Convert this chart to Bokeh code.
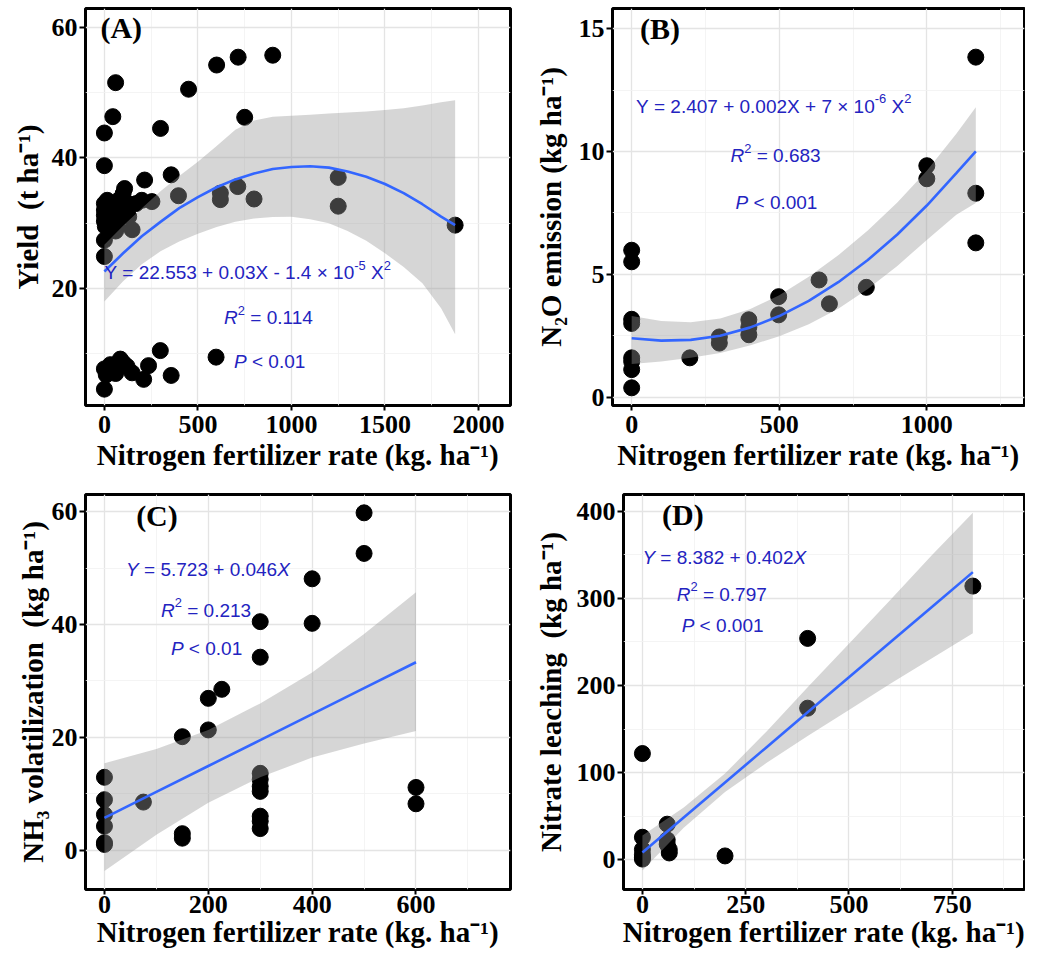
from bokeh.plotting import figure
from bokeh.models import Range1d, FixedTicker
from bokeh.layouts import column, row
from bokeh.embed import file_html
from bokeh.resources import INLINE
from bokeh.core.properties import value

# ---------------- data ----------------
# (A) Yield
A_x = [0, 45, 60, 300, 450, 600, 715, 900, 750,
       0, 215, 357, 108, 396, 620, 620, 713, 800, 254, 200, 148, 0, 0, 1250, 1250, 1875,
       0, 0, 0, 0, 5, 15, 20, 30, 35, 45, 50, 60, 70, 75, 90, 100, 110, 125, 60, 130, 170,
       0, 0, 32, 85, 121, 148, 210, 236, 299, 357, 597, 48, 101, 10, 60]
A_y = [43.8, 46.3, 51.5, 44.5, 50.5, 54.2, 55.4, 55.7, 46.2,
       38.8, 36.6, 37.4, 35.3, 34.2, 34.6, 33.6, 35.6, 33.7, 33.3, 33.5, 29.0, 27.4, 24.9, 37.0, 32.6, 29.7,
       33.0, 32.0, 31.2, 30.3, 29.5, 33.5, 31.5, 32.5, 30.0, 33.0, 31.0, 32.0, 29.5, 33.5, 31.0, 34.5, 32.5, 33.0, 28.8, 31.0, 33.0,
       7.7, 4.6, 8.35, 9.2, 8.1, 7.1, 6.1, 8.2, 10.5, 6.7, 9.5, 7.6, 8.6, 6.8, 7.0]
A_fit_x = [0, 100, 200, 300, 400, 500, 600, 700, 800, 900, 1000, 1100, 1200, 1300, 1400, 1500, 1600, 1700, 1800, 1875]
A_fit_y = [22.6, 25.4, 28.0, 30.2, 32.3, 34.0, 35.5, 36.7, 37.6, 38.3, 38.6, 38.7, 38.5, 37.9, 37.1, 36.0, 34.6, 32.9, 31.0, 29.7]
A_hi = [26.7, 29.6, 32.3, 34.9, 37.2, 39.4, 41.8, 44.3, 45.7, 46.3, 46.45, 46.6, 46.8, 46.95, 47.1, 47.3, 47.6, 48.0, 48.5, 48.8]
A_lo = [18.0, 21.1, 23.7, 25.7, 27.2, 28.4, 29.4, 30.2, 30.7, 30.95, 31.0, 30.6, 30.0, 28.8, 27.3, 25.4, 23.3, 20.8, 17.0, 13.0]

# (B) N2O emission
B_x = [0, 0, 0, 0, 0, 0, 0, 0, 197, 297, 297, 397, 397, 397, 498, 498, 635, 670, 795, 1000, 1000, 1166, 1166, 1166]
B_y = [5.98, 5.51, 3.17, 3.0, 1.6, 1.45, 1.12, 0.38, 1.6, 2.45, 2.2, 3.15, 2.85, 2.54, 4.09, 3.35, 4.77, 3.8, 4.47, 9.42, 8.89, 13.84, 8.3, 6.28]
B_fit_x = [0, 100, 200, 300, 400, 500, 600, 700, 800, 900, 1000, 1100, 1166]
B_fit_y = [2.40, 2.30, 2.33, 2.50, 2.83, 3.30, 3.92, 4.68, 5.58, 6.62, 7.80, 9.12, 10.0]
B_hi = [3.30, 3.10, 3.05, 3.20, 3.58, 4.15, 4.90, 5.78, 6.78, 7.92, 9.22, 10.72, 11.80]
B_lo = [1.35, 1.45, 1.60, 1.80, 2.10, 2.48, 2.97, 3.60, 4.40, 5.34, 6.40, 7.42, 7.90]

# (C) NH3 volatilization
C_x = [0, 0, 0, 0, 0, 0, 75, 150, 150, 150, 200, 200, 226, 300, 300, 300, 300, 300, 300, 300, 300, 300, 400, 400, 500, 500, 600, 600]
C_y = [12.9, 8.93, 6.28, 4.23, 1.29, 0.99, 8.5, 20.1, 2.9, 2.1, 26.9, 21.3, 28.5, 40.5, 34.2, 13.6, 12.5, 11.3, 10.4, 6.0, 5.1, 3.8, 48.1, 40.2, 59.8, 52.6, 11.1, 8.2]
C_fit_x = [0, 100, 200, 300, 400, 500, 600]
C_fit_y = [5.7, 10.3, 14.9, 19.5, 24.1, 28.7, 33.3]
C_hi = [15.4, 17.9, 21.3, 26.0, 31.5, 38.3, 45.7]
C_lo = [-3.7, 2.7, 8.4, 12.9, 16.4, 18.9, 21.1]

# (D) Nitrate leaching
D_x = [0, 0, 0, 0, 0, 0, 60, 60, 60, 65, 65, 200, 400, 400, 800]
D_y = [122, 26, 12, 6, 3, 1, 41, 23, 18, 12, 8, 4.6, 254, 174, 314]
D_fit_x = [0, 100, 200, 300, 400, 500, 600, 700, 800]
D_fit_y = [8.4, 48.6, 88.8, 129, 169.2, 209.4, 249.6, 289.8, 330]
D_hi = [28, 60, 99, 147, 198, 248, 298, 349, 398]
D_lo = [-12, 37, 78, 111, 142, 172, 202, 231, 260]

NB = "\u00a0"
X_LABEL = "Nitrogen fertilizer rate (kg. ha\u207b\u00b9)"
Y_LABELS = ["Yield " + NB + "(t ha\u207b\u00b9)",
            "N\u2082O emission (kg ha\u207b\u00b9)",
            "NH\u2083 volatilization " + NB + "(kg ha\u207b\u00b9)",
            "Nitrate leaching " + NB + "(kg ha\u207b\u00b9)"]

# ---------------- styling helpers ----------------
SERIF = "Liberation Serif"
SANS = "Liberation Sans"
TXT_BLUE = "#2323c0"

# Arial / Liberation Sans advance widths (per 1000 em)
W = {" ": 278, NB: 278, ".": 278, "=": 584, "+": 584, "-": 333, "\u00d7": 584, "<": 584,
     "X": 667, "Y": 667, "R": 722, "P": 667}
for d in "0123456789":
    W[d] = 556


def text_width(s, size):
    return sum(W.get(c, 556) for c in s) * size / 1000.0


def rich(p, x, y, segs, size=19):
    off = 0.0
    for s, kind in segs:
        s = s.replace(" ", NB)
        if kind == "sup":
            fs = size * 0.68
            yo = -size * 0.40
        else:
            fs = size
            yo = 0
        style = "italic" if kind == "it" else "normal"
        p.text(x=[x], y=[y], text=[s], x_offset=off, y_offset=yo,
               text_font=value(SANS), text_font_style=style,
               text_font_size=f"{fs:.1f}px", text_color=TXT_BLUE,
               text_align="left", text_baseline="middle")
        off += text_width(s, fs)


def make_fig(width, height, xr, yr, xt, xmt, yt, ymt, ylabel, borders, ystand, xstand):
    p = figure(width=width, height=height,
               x_range=Range1d(*xr), y_range=Range1d(*yr),
               output_backend="svg", toolbar_location=None, tools="",
               min_border_left=borders[0], min_border_right=borders[1],
               min_border_top=borders[2], min_border_bottom=borders[3])
    p.background_fill_color = "white"
    p.border_fill_color = "white"
    p.outline_line_color = "black"
    p.outline_line_width = 3
    p.xaxis.ticker = FixedTicker(ticks=xt, minor_ticks=xmt)
    p.yaxis.ticker = FixedTicker(ticks=yt, minor_ticks=ymt)
    p.xaxis.axis_label = X_LABEL
    p.yaxis.axis_label = ylabel
    for ax in (p.xaxis[0], p.yaxis[0]):
        ax.axis_line_color = None
        ax.major_tick_line_color = "black"
        ax.major_tick_line_width = 2
        ax.major_tick_in = 0
        ax.minor_tick_line_color = None
        ax.major_label_text_font = SERIF
        ax.major_label_text_font_style = "bold"
        ax.major_label_text_font_size = "26px"
        ax.major_label_text_color = "black"
        ax.axis_label_text_font = SERIF
        ax.axis_label_text_font_style = "bold"
        ax.axis_label_text_font_size = "29px"
        ax.axis_label_text_color = "black"
    p.xaxis[0].major_tick_out = 5
    p.xaxis[0].major_label_standoff = xstand[0]
    p.xaxis[0].axis_label_standoff = xstand[1]
    p.yaxis[0].major_tick_out = 6
    p.yaxis[0].major_label_standoff = 2
    p.yaxis[0].axis_label_standoff = ystand
    p.grid.grid_line_color = "#e4e4e4"
    p.grid.grid_line_width = 1.3
    p.grid.minor_grid_line_color = "#f1f1f1"
    p.grid.minor_grid_line_width = 0.8
    return p


def draw(p, xs, ys, fx, fy, lo, hi):
    p.scatter(xs, ys, size=16, fill_color="black", line_color="black")
    p.varea(x=fx, y1=lo, y2=hi, fill_color="#999999", fill_alpha=0.4)
    p.line(fx, fy, line_color="#3366FF", line_width=2.6)


def tag(p, x, y, s):
    p.text(x=[x], y=[y], text=[s], text_font=value(SERIF), text_font_style="bold",
           text_font_size="30px", text_color="black", text_align="left", text_baseline="middle")


H_TOP, H_BOT = 479, 477

# ---------------- panel A ----------------
pA = make_fig(512, H_TOP, (-101, 2171), (2.1, 62.85),
              [0, 500, 1000, 1500, 2000], [250, 750, 1250, 1750],
              [20, 40, 60], [10, 30, 50],
              Y_LABELS[0], (85, 2, 8, 74), 5, (5, 3))
draw(pA, A_x, A_y, A_fit_x, A_fit_y, A_lo, A_hi)
tag(pA, -21, 59.9, "(A)")
rich(pA, 0, 22.4, [("Y = 22.553 + 0.03X - 1.4 \u00d7 10", "n"), ("-5", "sup"), (" X", "n"), ("2", "sup")])
rich(pA, 640, 15.5, [("R", "it"), ("2", "sup"), (" = 0.114", "n")])
rich(pA, 693, 8.85, [("P", "it"), (" < 0.01", "n")])

# ---------------- panel B ----------------
pB = make_fig(513, H_TOP, (-65, 1331), (-0.34, 15.82),
              [0, 500, 1000], [250, 750, 1250],
              [0, 5, 10, 15], [2.5, 7.5, 12.5],
              Y_LABELS[1], (100, 1, 8, 74), 9, (5, 3))
draw(pB, B_x, B_y, B_fit_x, B_fit_y, B_lo, B_hi)
tag(pB, 28, 15.0, "(B)")
rich(pB, 14.6, 11.85, [("Y = 2.407 + 0.002X + 7 \u00d7 10", "n"), ("-6", "sup"), (" X", "n"), ("2", "sup")])
rich(pB, 335, 9.83, [("R", "it"), ("2", "sup"), (" = 0.683", "n")])
rich(pB, 352, 7.94, [("P", "it"), (" < 0.001", "n")])

# ---------------- panel C ----------------
pC = make_fig(512, H_BOT, (-36.5, 782), (-7.0, 63.05),
              [0, 200, 400, 600], [100, 300, 500, 700],
              [0, 20, 40, 60], [10, 30, 50],
              Y_LABELS[2], (85, 2, 15, 67), 0, (1, 0))
draw(pC, C_x, C_y, C_fit_x, C_fit_y, C_lo, C_hi)
tag(pC, 61, 59.4, "(C)")
rich(pC, 41.7, 49.8, [("Y", "it"), (" = 5.723 + 0.046", "n"), ("X", "it")])
rich(pC, 109, 42.5, [("R", "it"), ("2", "sup"), (" = 0.213", "n")])
rich(pC, 128, 35.8, [("P", "it"), (" < 0.01", "n")])

# ---------------- panel D ----------------
pD = make_fig(513, H_BOT, (-45.8, 925), (-33.9, 419),
              [0, 250, 500, 750], [125, 375, 625, 875],
              [0, 100, 200, 300, 400], [50, 150, 250, 350],
              Y_LABELS[3], (111, 1, 15, 67), 7, (1, 0))
draw(pD, D_x, D_y, D_fit_x, D_fit_y, D_lo, D_hi)
tag(pD, 47.5, 395.6, "(D)")
rich(pD, 0, 346.8, [("Y", "it"), (" = 8.382 + 0.402", "n"), ("X", "it")])
rich(pD, 83, 304.9, [("R", "it"), ("2", "sup"), (" = 0.797", "n")])
rich(pD, 95, 268.7, [("P", "it"), (" < 0.001", "n")])

layout = column(row(pA, pB), row(pC, pD))
open("out.html", "w").write(file_html(layout, INLINE))
